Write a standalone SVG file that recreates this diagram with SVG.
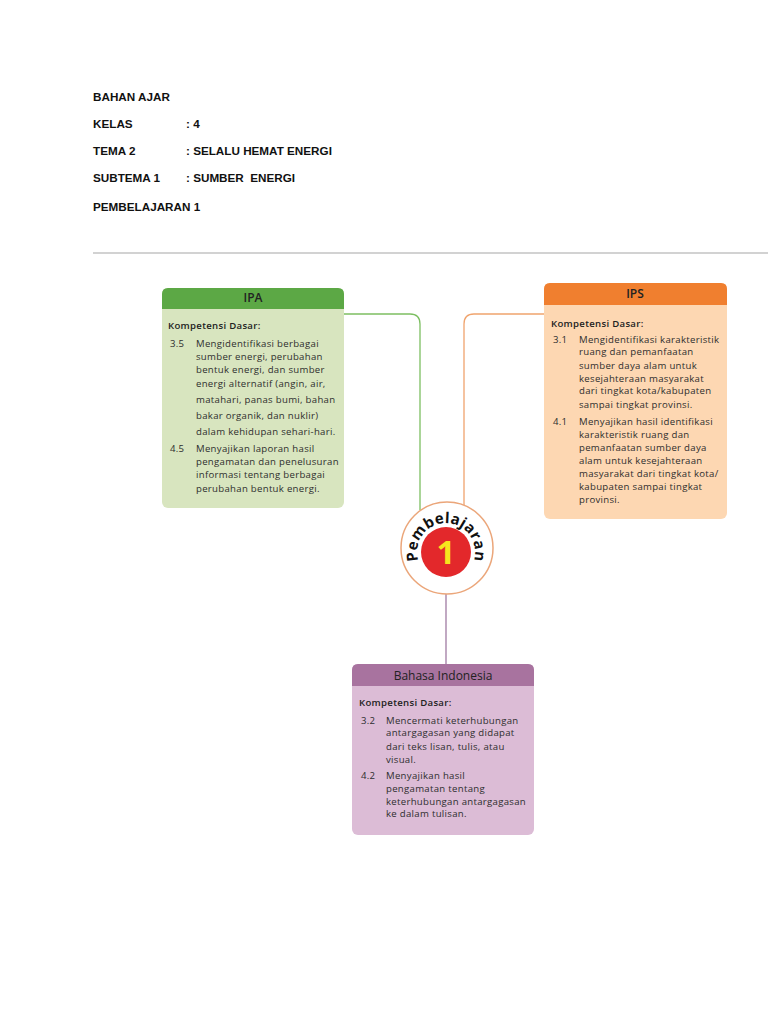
<svg xmlns="http://www.w3.org/2000/svg" width="768" height="1024" viewBox="0 0 768 1024">
<defs>
<style>
.hd{font-family:"Liberation Sans",Arial,sans-serif;font-weight:bold;font-size:11.7px;fill:#111}
.t{font-family:"Open Sans","DejaVu Sans",sans-serif;font-size:9.6px;letter-spacing:0.3px;fill:#2e2e2e}
.kd{font-family:"Open Sans","DejaVu Sans",sans-serif;font-size:9.6px;letter-spacing:0.3px;fill:#222;font-weight:600}
.ttl{font-family:"Open Sans","DejaVu Sans",sans-serif;font-size:12px;fill:#222;font-weight:600;text-anchor:middle}
.con{fill:none;stroke-width:1.3}
</style>
<path id="arc" d="M 419.7,564.3 A 29 29 0 1 1 472.3,564.3"/>
</defs>
<rect width="768" height="1024" fill="#fff"/>
<g id="header">
<text class="hd" x="93" y="100.5">BAHAN AJAR</text>
<text class="hd" x="93" y="127.5">KELAS</text>
<text class="hd" x="186" y="127.5">: 4</text>
<text class="hd" x="93" y="154.5">TEMA 2</text>
<text class="hd" x="186" y="154.5">: SELALU HEMAT ENERGI</text>
<text class="hd" x="93" y="181.5">SUBTEMA 1</text>
<text class="hd" x="186" y="181.5" xml:space="preserve" style="white-space:pre">: SUMBER  ENERGI</text>
<text class="hd" x="93" y="210.5">PEMBELAJARAN 1</text>
<line x1="93" y1="253" x2="768" y2="253" stroke="#d2d2d2" stroke-width="2"/>
</g>
<g id="connectors">
<path class="con" stroke="#7dbf62" d="M344,314 H410 Q420,314 420,324 V510"/>
<path class="con" stroke="#f0a46e" d="M544,314 H474 Q464,314 464,324 V506"/>
<path class="con" stroke="#a07aa2" stroke-width="1.8" d="M446,594 V664"/>
</g>
<g id="ipa">
<rect x="162" y="288" width="182" height="220" rx="6" fill="#d8e5bf"/>
<path d="M162,309 V294 Q162,288 168,288 H338 Q344,288 344,294 V309 Z" fill="#5ca845"/>
<text class="ttl" x="253" y="302">IPA</text>
<text class="kd" x="168" y="329">Kompetensi Dasar:</text>
<text class="t" x="170" y="347">3.5</text>
<text class="t" x="196" y="347">Mengidentifikasi berbagai</text>
<text class="t" x="196" y="360">sumber energi, perubahan</text>
<text class="t" x="196" y="373">bentuk energi, dan sumber</text>
<text class="t" x="196" y="387">energi alternatif (angin, air,</text>
<text class="t" x="196" y="403">matahari, panas bumi, bahan</text>
<text class="t" x="196" y="419">bakar organik, dan nuklir)</text>
<text class="t" x="196" y="435">dalam kehidupan sehari-hari.</text>
<text class="t" x="170" y="452">4.5</text>
<text class="t" x="196" y="452">Menyajikan laporan hasil</text>
<text class="t" x="196" y="465">pengamatan dan penelusuran</text>
<text class="t" x="196" y="478">informasi tentang berbagai</text>
<text class="t" x="196" y="492">perubahan bentuk energi.</text>
</g>
<g id="ips">
<rect x="544" y="283" width="183" height="236" rx="6" fill="#fdd7b2"/>
<path d="M544,305 V289 Q544,283 550,283 H721 Q727,283 727,289 V305 Z" fill="#f07f2f"/>
<text class="ttl" x="635" y="298">IPS</text>
<text class="kd" x="551" y="327">Kompetensi Dasar:</text>
<text class="t" x="553" y="343">3.1</text>
<text class="t" x="579" y="343">Mengidentifikasi karakteristik</text>
<text class="t" x="579" y="355">ruang dan pemanfaatan</text>
<text class="t" x="579" y="369">sumber daya alam untuk</text>
<text class="t" x="579" y="382">kesejahteraan masyarakat</text>
<text class="t" x="579" y="394">dari tingkat kota/kabupaten</text>
<text class="t" x="579" y="408">sampai tingkat provinsi.</text>
<text class="t" x="553" y="425">4.1</text>
<text class="t" x="579" y="425">Menyajikan hasil identifikasi</text>
<text class="t" x="579" y="438">karakteristik ruang dan</text>
<text class="t" x="579" y="451">pemanfaatan sumber daya</text>
<text class="t" x="579" y="464">alam untuk kesejahteraan</text>
<text class="t" x="579" y="477">masyarakat dari tingkat kota/</text>
<text class="t" x="579" y="490">kabupaten sampai tingkat</text>
<text class="t" x="579" y="503">provinsi.</text>
</g>
<g id="pembelajaran">
<circle cx="447" cy="548" r="46" fill="#fff" stroke="#eba67a" stroke-width="1.5"/>
<circle cx="446" cy="552" r="25" fill="#e3282b"/>
<text x="446" y="564" text-anchor="middle" font-family="'Open Sans','DejaVu Sans',sans-serif" font-weight="bold" font-size="33" fill="#f6e51e">1</text>
<text font-family="'Open Sans','DejaVu Sans',sans-serif" font-weight="bold" font-size="15" fill="#111" letter-spacing="0.3"><textPath href="#arc" startOffset="50%" text-anchor="middle">Pembelajaran</textPath></text>
</g>
<g id="bahasa">
<rect x="352" y="664" width="182" height="171" rx="6" fill="#dcbcd6"/>
<path d="M352,686 V670 Q352,664 358,664 H528 Q534,664 534,670 V686 Z" fill="#a8739f"/>
<text class="ttl" x="443" y="680" style="font-weight:500">Bahasa Indonesia</text>
<text class="kd" x="359" y="706">Kompetensi Dasar:</text>
<text class="t" x="361" y="724">3.2</text>
<text class="t" x="386" y="724">Mencermati keterhubungan</text>
<text class="t" x="386" y="736">antargagasan yang didapat</text>
<text class="t" x="386" y="750">dari teks lisan, tulis, atau</text>
<text class="t" x="386" y="763">visual.</text>
<text class="t" x="361" y="779">4.2</text>
<text class="t" x="386" y="779">Menyajikan hasil</text>
<text class="t" x="386" y="792">pengamatan tentang</text>
<text class="t" x="386" y="805">keterhubungan antargagasan</text>
<text class="t" x="386" y="817">ke dalam tulisan.</text>
</g>
</svg>
